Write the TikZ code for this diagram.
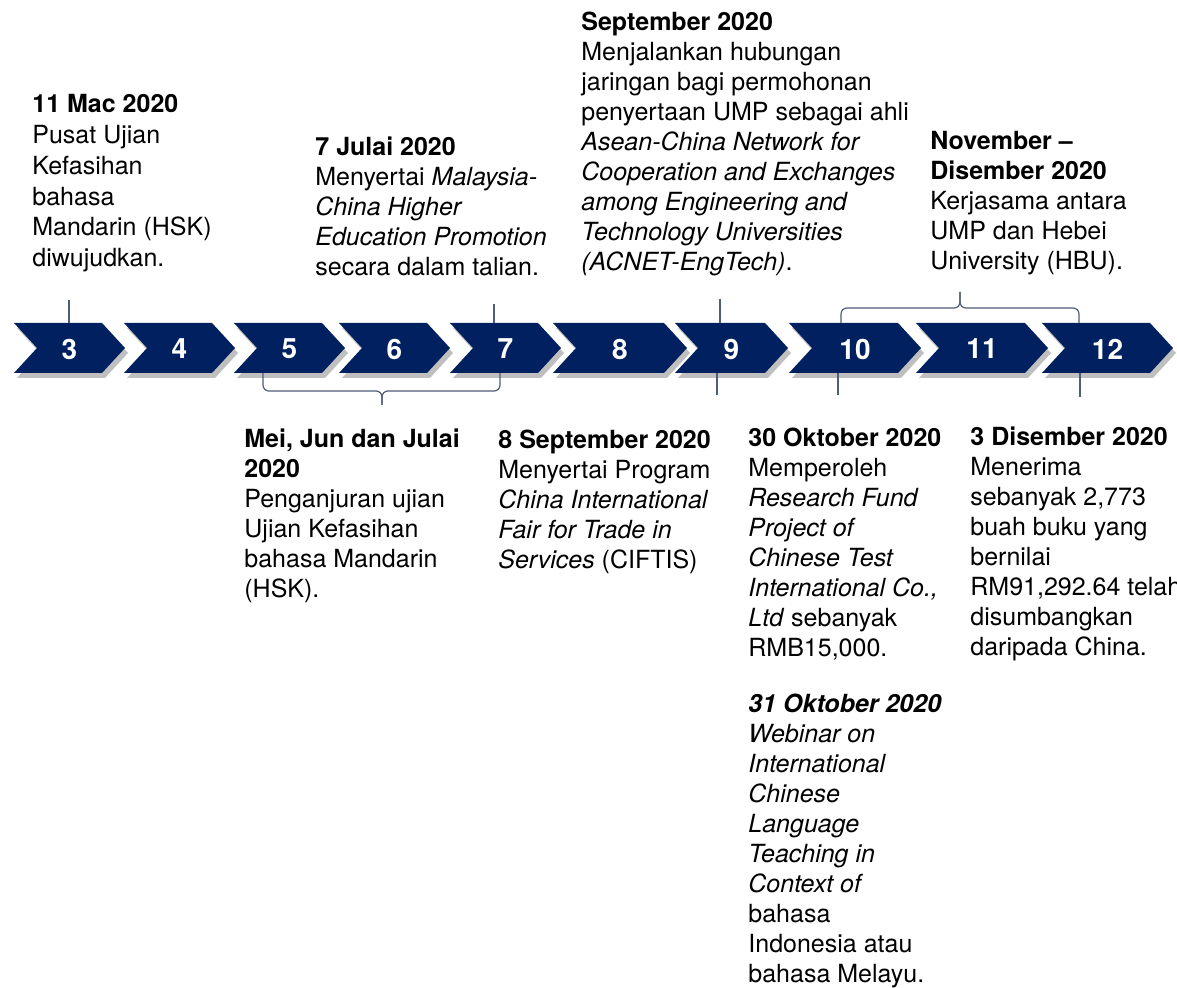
\documentclass[tikz,border=0pt]{standalone}
\usepackage{fontspec}
\setmainfont{TeX Gyre Heros}
\usetikzlibrary{shadows}
\definecolor{navy}{HTML}{002060}
\definecolor{tickc}{HTML}{4E5D78}
\tikzset{
  chev/.style={fill=navy, drop shadow={shadow xshift=1.5pt, shadow yshift=-2.5pt, fill=black, opacity=0.25}},
  num/.style={text=white, font=\fontsize{14}{16}\selectfont\bfseries, inner sep=0pt},
  txt/.style={anchor=north west, align=left, inner sep=0pt, font=\fontsize{12.5}{15}\selectfont},
  tick/.style={draw=tickc, line width=0.6pt},
  brace/.style={draw=tickc, line width=0.6pt, rounded corners=3pt}
}
\begin{document}
\begin{tikzpicture}[x=0.5pt, y=-0.5pt]
\useasboundingbox (0,0) rectangle (1177,988);
\fill[white] (0,0) rectangle (1177,988);
% chevrons
\foreach \l/\r/\n in {14/125/3, 124/235/4, 234/345/5, 339/450/6, 450/561/7, 553/687/8, 675/788/9, 789/921/10, 916/1048/11, 1042/1173/12} {
  \fill[chev] (\l,323) -- (\r-23,323) -- (\r,348) -- (\r-23,373) -- (\l,373) -- (\l+23,348) -- cycle;
  \node[num] (c\n) at ({(\l+\r)/2},349) {\n};
}
% text blocks (top at first baseline - 18)
\node[txt, font=\fontsize{12.5}{15.4}\selectfont] (t3) at (32,94) {\textbf{11 Mac 2020}\\Pusat Ujian\\Kefasihan\\bahasa\\Mandarin (HSK)\\diwujudkan.};
\node[txt] (t7) at (315,136) {\textbf{7 Julai 2020}\\Menyertai \textit{Malaysia-}\\\textit{China Higher}\\\textit{Education Promotion}\\secara dalam talian.};
\node[txt] (t9) at (581,12) {\textbf{September 2020}\\Menjalankan hubungan\\jaringan bagi permohonan\\penyertaan UMP sebagai ahli\\\textit{Asean-China Network for}\\\textit{Cooperation and Exchanges}\\\textit{among Engineering and}\\\textit{Technology Universities}\\\textit{(ACNET-EngTech)}.};
\node[txt] (t1012) at (930,131) {\textbf{November –}\\\textbf{Disember 2020}\\Kerjasama antara\\UMP dan Hebei\\University (HBU).};
\node[txt] (b57) at (244,428) {\textbf{Mei, Jun dan Julai}\\\textbf{2020}\\Penganjuran ujian\\Ujian Kefasihan\\bahasa Mandarin\\(HSK).};
\node[txt] (b9) at (498,430) {\textbf{8 September 2020}\\Menyertai Program\\\textit{China International}\\\textit{Fair for Trade in}\\\textit{Services} (CIFTIS)};
\node[txt] (b10) at (748,428) {\textbf{30 Oktober 2020}\\Memperoleh\\\textit{Research Fund}\\\textit{Project of}\\\textit{Chinese Test}\\\textit{International Co.,}\\\textit{Ltd} sebanyak\\RMB15,000.};
\node[txt] (b10b) at (748,694) {\textbf{\textit{31 Oktober 2020}}\\\textit{Webinar on}\\\textit{International}\\\textit{Chinese}\\\textit{Language}\\\textit{Teaching in}\\\textit{Context of}\\bahasa\\Indonesia atau\\bahasa Melayu.};
\node[txt] (b12) at (970,426) {\textbf{3 Disember 2020}\\Menerima\\sebanyak 2,773\\buah buku yang\\bernilai\\RM91,292.64 telah\\disumbangkan\\daripada China.};
% tick coordinates
\coordinate (a3) at (69,300);  \coordinate (a3e) at (69,323);
\coordinate (a7) at (494,304); \coordinate (a7e) at (494,323);
\coordinate (a9) at (720,299); \coordinate (a9e) at (720,323);
\coordinate (u9) at (717,395); \coordinate (u9s) at (717,373);
\coordinate (u10) at (838,395); \coordinate (u10s) at (838,373);
\coordinate (u12) at (1080,397); \coordinate (u12s) at (1080,373);
\draw[tick] (a3) -- (a3e);
\draw[tick] (a7) -- (a7e);
\draw[tick] (a9) -- (a9e);
\draw[tick] (u9s) -- (u9);
\draw[tick] (u10s) -- (u10);
\draw[tick] (u12s) -- (u12);
% braces
\coordinate (bl) at (263,373); \coordinate (br) at (500,373); \coordinate (bt) at (382,405);
\draw[brace] (bl) -- (263,391) -- (382,391) -- (bt);
\draw[brace] (br) -- (500,391) -- (382,391) -- (bt);
\coordinate (ul) at (841,323); \coordinate (ur) at (1079,323); \coordinate (ut) at (960,292);
\draw[brace] (ul) -- (841,308) -- (960,308) -- (ut);
\draw[brace] (ur) -- (1079,308) -- (960,308) -- (ut);
\end{tikzpicture}
\end{document}
